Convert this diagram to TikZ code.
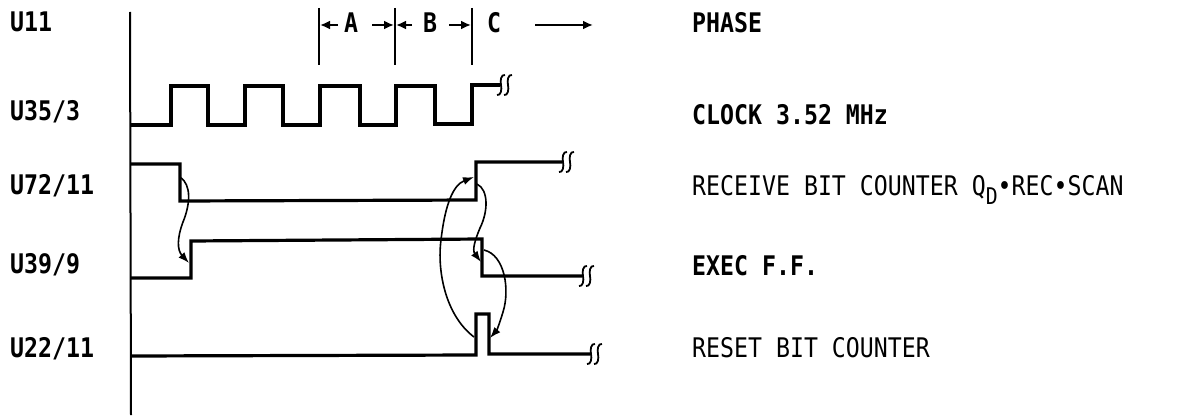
\documentclass[tikz,border=0pt]{standalone}
\usepackage{fontspec}
\newfontfamily\lbl[FakeStretch=0.86]{DejaVu Sans Mono}
\newfontfamily\lblb[FakeStretch=0.86]{DejaVu Sans Mono Bold}
\usetikzlibrary{arrows.meta}
\begin{document}
\begin{tikzpicture}[x=1pt,y=-1pt,
  txt/.style={anchor=base west, inner sep=0pt, font=\lblb\fontsize{27}{30}\selectfont},
  ltxt/.style={anchor=base west, inner sep=0pt, font=\lbl\fontsize{27}{30}\selectfont},
  ctxt/.style={anchor=base, inner sep=0pt, font=\lblb\fontsize{27}{30}\selectfont},
  wave/.style={line width=3.2pt, line join=miter},
  axisline/.style={line width=2pt},
  tickline/.style={line width=2pt},
  cause/.style={line width=1.6pt, -{Latex[length=11pt,width=8pt]}},
  ptr/.style={line width=2pt, -{Latex[length=10pt,width=9pt]}},
  brk/.pic={\draw[line width=1.8pt] (-3,10) .. controls (1,11) and (2,4) .. (1,0) .. controls (0,-4) and (1,-11) .. (5,-10);
            \draw[line width=1.8pt] (4,10) .. controls (8,11) and (9,4) .. (8,0) .. controls (7,-4) and (8,-11) .. (12,-10);}
]
\useasboundingbox (0,0) rectangle (1194,420);

% axis
\coordinate (axtop) at (130,12);
\coordinate (axbot) at (131,415);
\draw[axisline] (axtop) -- (axbot);

% left labels
\node[txt] (l11) at (10,32) {U11};
\node[txt] (l35) at (10,120) {U35/3};
\node[txt] (l72) at (10,194) {U72/11};
\node[txt] (l39) at (10,273) {U39/9};
\node[txt] (l22) at (10,357) {U22/11};

% right labels
\node[txt] (rphase) at (692,33) {PHASE};
\node[txt] (rclock) at (692,124) {CLOCK 3.52 MHz};
\node[ltxt] (rrec) at (692,195) {RECEIVE BIT COUNTER Q\raisebox{-0.35em}{\fontsize{23}{26}\selectfont D}•REC•SCAN};
\node[txt] (rexec) at (692,275) {EXEC F.F.};
\node[ltxt] (rreset) at (692,357) {RESET BIT COUNTER};

% phase markers
\coordinate (pa) at (319,25);
\coordinate (pb) at (395,25);
\coordinate (pc) at (472,25);
\draw[tickline] (319,8) -- (319,65);
\draw[tickline] (395,8) -- (395,65);
\draw[tickline] (472,8) -- (472,65);
\coordinate (pa1) at (338,25);
\coordinate (pb0) at (372,25);
\coordinate (pb1) at (412,25);
\coordinate (pc0) at (449,25);
\draw[ptr] (pa1) -- ([xshift=1pt]pa);
\draw[ptr] (pb0) -- ([xshift=-1pt]pb);
\draw[ptr] (pb1) -- ([xshift=1pt]pb);
\draw[ptr] (pc0) -- ([xshift=-1pt]pc);
\node[ctxt] (ta) at (351,33) {A};
\node[ctxt] (tb) at (430,33) {B};
\node[ctxt] (tc) at (494,33) {C};
\coordinate (go0) at (535,25);
\coordinate (go1) at (593,25);
\draw[ptr] (go0) -- (go1);

% clock
\draw[wave] (131,125) -- (171,125) -- (171,86) -- (208,86) -- (208,125) -- (245,125) -- (245,86)
  -- (283,86) -- (283,125) -- (320,125) -- (320,86) -- (360,86) -- (360,125) -- (396,125)
  -- (396,86) -- (435,86) -- (435,124) -- (472,124) -- (472,85) -- (500,85);
\pic at (500,85) {brk};

% U72/11
\draw[wave] (131,164) -- (180,164) -- (180,201) -- (476,200) -- (476,162) -- (562,162);
\pic at (562,162) {brk};

% U39/9
\draw[wave] (131,278) -- (191,278) -- (191,241) -- (482,239) -- (482,276) -- (582,276);
\pic at (582,276) {brk};

% U22/11
\draw[wave] (131,356) -- (476,355) -- (476,314) -- (489,314) -- (489,354) -- (590,354);
\pic at (590,354) {brk};

% cause arrows
\coordinate (c1s) at (180,177);
\coordinate (c1e) at (189,263);
\draw[cause] (c1s) .. controls (192,185) and (190,205) .. (183,222)
  .. controls (177,238) and (177,250) .. (c1e);
\coordinate (c2s) at (477,184);
\coordinate (c2e) at (481,262);
\draw[cause] (c2s) .. controls (489,190) and (488,212) .. (480,228)
  .. controls (475,240) and (472,250) .. (c2e);
\coordinate (c3s) at (474,337);
\coordinate (c3e) at (474,177);
\draw[cause] (c3s) .. controls (445,315) and (437,270) .. (441,240)
  .. controls (445,205) and (453,185) .. (c3e);
\coordinate (c4s) at (484,250);
\coordinate (c4e) at (490,338);
\draw[cause] (c4s) .. controls (505,255) and (510,290) .. (503,312)
  .. controls (500,322) and (497,330) .. (c4e);
\end{tikzpicture}
\end{document}
